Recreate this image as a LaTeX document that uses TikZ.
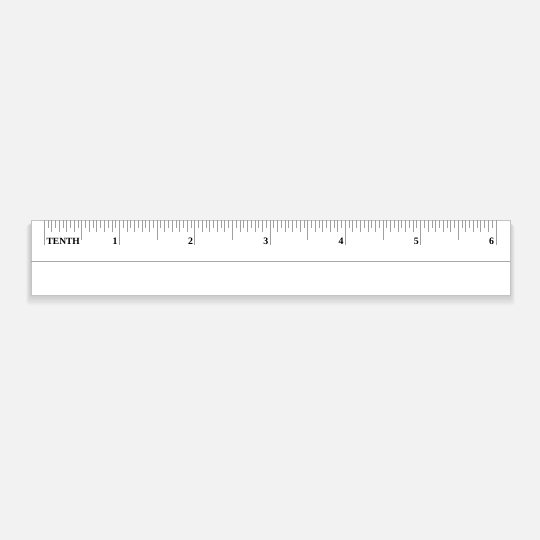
\documentclass[tikz,border=0pt]{standalone}
\usepackage{fontspec}
\usepackage{tikz}
\newfontfamily\rulerfont{Liberation Serif}
\definecolor{pagebg}{HTML}{F2F2F2}
\definecolor{tickgray}{HTML}{A0A0A0}
\definecolor{edgegray}{HTML}{C4C4C4}
\definecolor{rulegray}{HTML}{A8A8A8}

\begin{document}
\begin{tikzpicture}[x=0.05cm,y=-0.05cm,
    tick/.style={tickgray,line width=0.7pt},
    num/.style={font=\rulerfont\bfseries\fontsize{14}{16}\selectfont,anchor=base east,inner sep=0pt}]
  \fill[pagebg] (0,0) rectangle (540,540);
  % soft shadow under the ruler
  \foreach \k in {1,...,8}
    \fill[black,opacity=0.018,rounded corners=4pt] (31-\k*0.6,221+\k*0.5) rectangle (510+\k*0.6,295+\k*1.3);
  \filldraw[fill=white,draw=edgegray,line width=0.8pt] (31,220) rectangle (510,295);
  \draw[rulegray,line width=1pt] (31,261) -- (510,261);

  % twentieths, tenths, halves, inches
  \foreach \i in {0,...,120} {
    \pgfmathsetmacro{\len}{ifthenelse(mod(\i,20)==0,25,ifthenelse(mod(\i,10)==0,20,ifthenelse(mod(\i,2)==0,12,8)))}
    \draw[tick] (44+\i*3.765,220) -- ++(0,\len);
  }

  \node[num,anchor=base west,font=\rulerfont\bfseries\fontsize{13.5}{15}\selectfont] (unit) at (46.5,244) {TENTH};
  \foreach \n in {1,...,6}
    \node[num] (lbl\n) at (42.5+\n*75.3,244) {\n};
\end{tikzpicture}
\end{document}
